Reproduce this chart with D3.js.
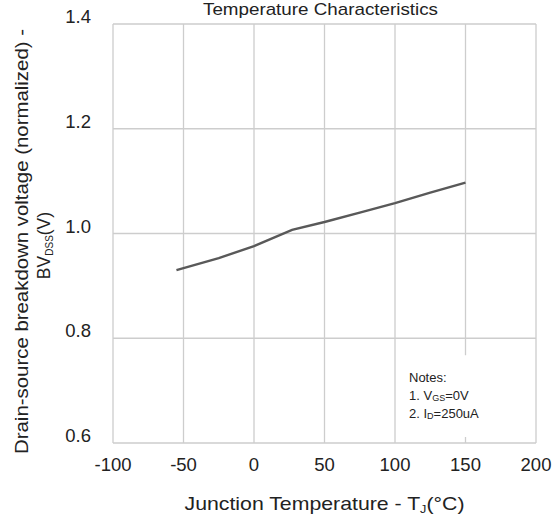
<!DOCTYPE html>
<html>
<head>
<meta charset="utf-8">
<script src="https://cdn.jsdelivr.net/npm/d3@7"></script>
<style>
  body { margin: 0; background: #fff; }
  text { font-family: "Liberation Sans", Arial, sans-serif; fill: #222; }
  .grid line { stroke: #cdcdcd; stroke-width: 1.3; }
</style>
</head>
<body>
<svg width="555" height="521"></svg>
<script>
// values
var temps = [-55, -25, 0, 27, 50, 75, 100, 125, 150];
var bvdss = [0.930, 0.953, 0.976, 1.007, 1.022, 1.040, 1.058, 1.078, 1.097];
var xTicks = [-100, -50, 0, 50, 100, 150, 200];
var yTicks = [0.6, 0.8, 1.0, 1.2, 1.4];

var data = temps.map(function(t, i) { return { t: t, v: bvdss[i] }; });

var svg = d3.select("svg"),
    margin = {top: 24, right: 19, bottom: 78, left: 113},
    width = +svg.attr("width") - margin.left - margin.right,
    height = +svg.attr("height") - margin.top - margin.bottom,
    g = svg.append("g").attr("transform", "translate(" + margin.left + "," + margin.top + ")");

var x = d3.scaleLinear().domain([-100, 200]).range([0, width]);
var y = d3.scaleLinear().domain([0.6, 1.4]).range([height, 0]);

// grid
g.append("g")
    .attr("class", "grid")
    .selectAll("line.v")
    .data(xTicks)
    .enter().append("line")
      .attr("x1", function(d) { return x(d); })
      .attr("x2", function(d) { return x(d); })
      .attr("y1", 0)
      .attr("y2", height);

g.append("g")
    .attr("class", "grid")
    .selectAll("line.h")
    .data(yTicks)
    .enter().append("line")
      .attr("x1", 0)
      .attr("x2", width)
      .attr("y1", function(d) { return y(d); })
      .attr("y2", function(d) { return y(d); });

// notes box covers the corner grid
g.append("rect")
    .attr("x", x(100) + 1)
    .attr("y", y(0.8) + 17)
    .attr("width", x(200) - x(100) - 2)
    .attr("height", height - y(0.8) - 17 - 1)
    .attr("fill", "#fff");

// small inward tick at 150
g.append("line")
    .attr("x1", x(150)).attr("x2", x(150))
    .attr("y1", height).attr("y2", height - 6)
    .attr("stroke", "#cdcdcd")
    .attr("stroke-width", 1.3);

// curve
g.append("path")
    .datum(data)
    .attr("fill", "none")
    .attr("stroke", "#595959")
    .attr("stroke-width", 2.4)
    .attr("d", d3.line()
      .x(function(d) { return x(d.t); })
      .y(function(d) { return y(d.v); }));

// tick labels
g.selectAll(".xlab")
    .data(xTicks)
    .enter().append("text")
      .attr("x", function(d) { return x(d); })
      .attr("y", height + 28)
      .attr("text-anchor", "middle")
      .style("font-size", "18.5px")
      .text(function(d) { return d; });

g.selectAll(".ylab")
    .data(yTicks)
    .enter().append("text")
      .attr("x", -22)
      .attr("y", function(d) { return y(d) - 1; })
      .attr("text-anchor", "end")
      .style("font-size", "18.5px")
      .text(function(d) { return d.toFixed(1); });

// title
svg.append("text")
    .attr("x", margin.left + width / 2 - 4)
    .attr("y", 15)
    .attr("text-anchor", "middle")
    .attr("textLength", 235)
    .attr("lengthAdjust", "spacingAndGlyphs")
    .style("font-size", "17px")
    .text("Temperature Characteristics");

// x axis title
var xt = svg.append("text")
    .attr("x", margin.left + width / 2)
    .attr("y", 510)
    .attr("text-anchor", "middle")
    .attr("textLength", 280)
    .attr("lengthAdjust", "spacingAndGlyphs")
    .style("font-size", "18.5px");
xt.append("tspan").text("Junction Temperature - T");
xt.append("tspan").attr("dy", 3).style("font-size", "11px").text("J");
xt.append("tspan").attr("dy", -3).text("(°C)");

// y axis title, two lines
var cy = margin.top + height / 2 + 8;
svg.append("text")
    .attr("transform", "translate(28," + cy + ") rotate(-90)")
    .attr("text-anchor", "middle")
    .attr("textLength", 425)
    .attr("lengthAdjust", "spacingAndGlyphs")
    .style("font-size", "17.5px")
    .text("Drain-source breakdown voltage (normalized) -");

var yt = svg.append("text")
    .attr("transform", "translate(50," + (cy + 4) + ") rotate(-90)")
    .attr("text-anchor", "middle")
    .style("font-size", "17.5px");
yt.append("tspan").text("BV");
yt.append("tspan").attr("dy", 3).style("font-size", "10px").text("DSS");
yt.append("tspan").attr("dy", -3).text("(V)");

// notes
var nx = x(100) + margin.left + 14;
svg.append("text").attr("x", nx).attr("y", 382).style("font-size", "13px").text("Notes:");
var n1 = svg.append("text").attr("x", nx).attr("y", 400).style("font-size", "13px");
n1.append("tspan").text("1. V");
n1.append("tspan").attr("dy", 1).style("font-size", "9px").text("GS");
n1.append("tspan").attr("dy", -1).text("=0V");
var n2 = svg.append("text").attr("x", nx).attr("y", 418).style("font-size", "13px");
n2.append("tspan").text("2. I");
n2.append("tspan").attr("dy", 1).style("font-size", "9px").text("D");
n2.append("tspan").attr("dy", -1).text("=250uA");
</script>
</body>
</html>
